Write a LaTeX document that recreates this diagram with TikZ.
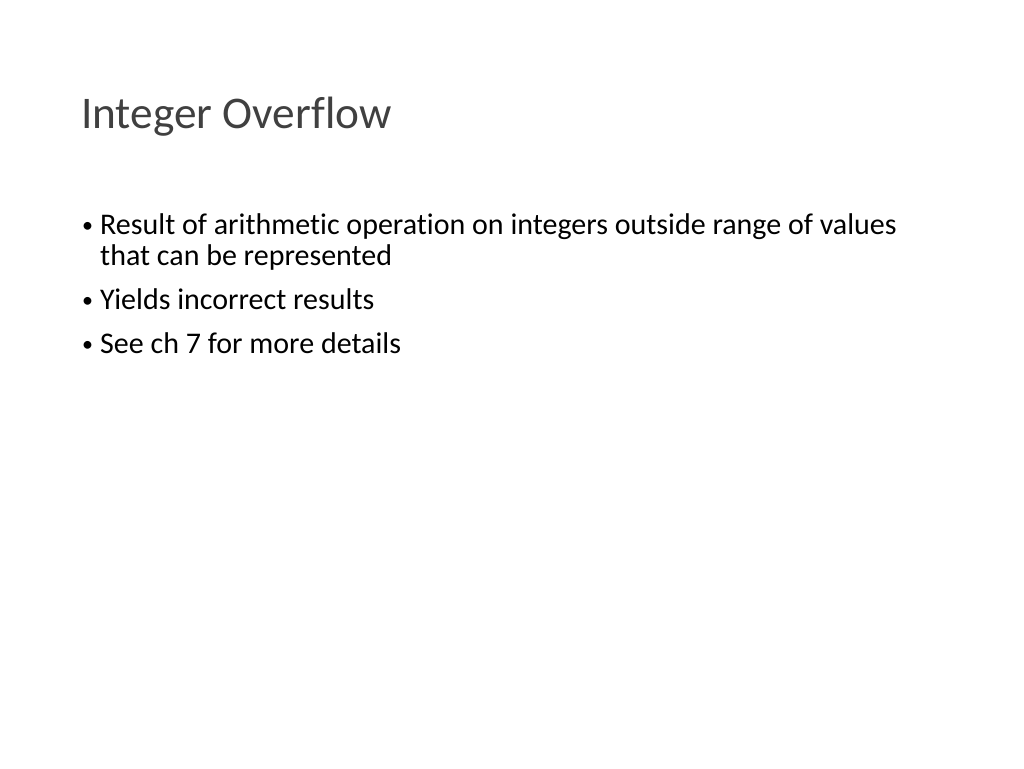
\documentclass[tikz,border=0pt]{standalone}
\usepackage{fontspec}
\setmainfont[Ligatures={NoCommon}]{Carlito}
\usepackage{xcolor}
\definecolor{titlegray}{HTML}{404040}

\begin{document}
\begin{tikzpicture}[x=1pt,y=-1pt,
    slidetitle/.style={anchor=base west, inner sep=0pt, text=titlegray, font=\fontsize{45.3}{50}\selectfont},
    bodytext/.style={anchor=base west, inner sep=0pt, text=black, font=\fontsize{30}{33}\selectfont},
    bulletmark/.style={anchor=base west, inner sep=0pt, text=black, font=\fontsize{22}{26}\selectfont}]
    % Slide area
    \useasboundingbox[fill=white] (0,0) rectangle (1024,768);

    % Title
    \node[slidetitle] (title) at (81,128) {Integer Overflow};

    % Bullets
    \node[bulletmark] (b1) at (82,232) {•};
    \node[bodytext] (r1) at (100,234) {Result of arithmetic operation on integers outside range of values};
    \node[bodytext] (r1b) at (100,265) {that can be represented};
    \node[bulletmark] (b2) at (82,307) {•};
    \node[bodytext] (r2) at (100,309) {Yields incorrect results};
    \node[bulletmark] (b3) at (82,351) {•};
    \node[bodytext] (r3) at (100,353) {See ch 7 for more details};
\end{tikzpicture}
\end{document}
